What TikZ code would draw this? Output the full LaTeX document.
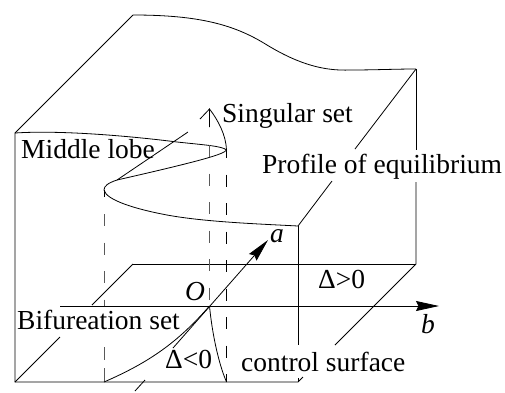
\documentclass[tikz,border=0pt]{standalone}
\usepackage{fontspec}
\setmainfont{Liberation Serif}
\usetikzlibrary{arrows.meta}
\begin{document}
\begin{tikzpicture}[
   x=1pt,y=-1pt,
   edge/.style={line width=0.8pt},
   guide/.style={line width=0.9pt,black!65,dash pattern=on 12pt off 16.5pt},
   guidek/.style={line width=0.8pt,black,dash pattern=on 12pt off 16.5pt,dash phase=4pt},
   axis/.style={line width=0.8pt,black,-{Stealth[length=23pt,width=10pt,inset=2.5pt]}},
   lbl/.style={anchor=base west,inner sep=0pt,font=\fontsize{27.5}{30}\selectfont}]
  \useasboundingbox (0,0) rectangle (505,392);
  % corners of the block
  \coordinate (TB) at (133,15);
  \coordinate (TR) at (416,69);
  \coordinate (TL) at (15,133);
  \coordinate (TF) at (298,226);
  \coordinate (BL) at (15,382);
  \coordinate (BF) at (298,382);
  \coordinate (BR) at (416,264);
  \coordinate (BB) at (133,264);
  \coordinate (FA) at (298,345);
  \coordinate (FB) at (298,378);
  \coordinate (RA) at (335,345);
  \coordinate (RB) at (355,149);
  \coordinate (RC) at (332,181);
  \coordinate (VA) at (416,150);
  \coordinate (VB) at (416,182);
  \coordinate (TK) at (303,377);
  \coordinate (LA) at (92,305);
  \coordinate (LB) at (60,337);
  % points on the profile
  \coordinate (N) at (104,190);
  \coordinate (NA) at (104,197);
  \coordinate (NB) at (104,214);
  \coordinate (NC) at (104,306);
  \coordinate (ND) at (104,347);
  \coordinate (F) at (226.5,150);
  \coordinate (Y) at (209.5,109);
  \coordinate (YL) at (200,119);
  \coordinate (YB) at (209.5,127);
  \coordinate (YC) at (209.5,145);
  \coordinate (M) at (188,132);
  \coordinate (MB) at (117,180);
  \coordinate (O) at (209.5,306);
  \coordinate (AS) at (135,391);
  \coordinate (AG) at (145,380);
  \coordinate (AH) at (173,348);
  \coordinate (AT) at (268,240);
  \coordinate (BS) at (60,306);
  \coordinate (BT) at (439,306);
  \coordinate (C1) at (104,382);
  \coordinate (C2) at (226.5,382);
  % block
  \draw[edge] (TL)--(TB);
  \draw[edge] (TB) .. controls (200,15) and (235,25) .. (267,45)
     .. controls (300,65) and (325,71) .. (350,70)
     .. controls (375,70) and (395,69) .. (TR);
  \draw[edge] (TR)--(RB);
  \draw[edge] (RC)--(TF);
  \draw[edge] (TR)--(VA);
  \draw[edge] (VB)--(BR)--(RA);
  \draw[edge] (TL)--(BL)--(BF)--(TK);
  \draw[edge] (TF)--(FA);
  \draw[edge] (FB)--(BF);
  \draw[edge] (BB)--(BR);
  \draw[edge] (BB)--(LA);
  \draw[edge] (LB)--(BL);
  % profile of equilibrium
  \draw[edge] (TL) .. controls (60,130) and (130,136) .. (177,142)
     .. controls (205,145) and (222,146) .. (F)
     .. controls (224,154) and (205,160) .. (117,180)
     .. controls (108,183) and (104,186) .. (N)
     .. controls (106,200) and (135,209) .. (167,215)
     .. controls (205,222) and (260,224) .. (TF);
  \draw[edge] (MB)--(M);
  \draw[edge] (YL)--(Y)--(YB);
  \draw[edge] (Y) .. controls (218,120) and (226,135) .. (F);
  % projection lines
  \draw[edge] (N)--(NA);
  \draw[guide] (NB)--(NC);
  \draw[guide,dash pattern=on 13pt off 8pt] (ND)--(C1);
  \draw[guide] (YC)--(O);
  \draw[guidek] (F)--(C2);
  % bifurcation set
  \draw[edge] (O) .. controls (178,342) and (150,362) .. (C1);
  \draw[edge] (O) .. controls (212,332) and (218,362) .. (C2);
  % axes
  \draw[axis] (BS)--(BT);
  \draw[edge] (AS)--(AG);
  \draw[axis] (AH)--(AT);
  % labels
  \node[lbl] (lobe) at (21,158) {Middle lobe};
  \node[lbl] (sing) at (222,122) {Singular set};
  \node[lbl] (prof) at (262,173) {Profile of equilibrium};
  \node[lbl] (bif) at (17,329) {Bifureation set};
  \node[lbl] (ctrl) at (241,371) {control surface};
  \node[lbl] (pos) at (318,288) {Δ>0};
  \node[lbl] (neg) at (165,368) {Δ<0};
  \node[lbl] (la) at (270,242) {\textit{a}};
  \node[lbl] (lb) at (421,333) {\textit{b}};
  \node[lbl] (lo) at (185,300) {\textit{O}};
\end{tikzpicture}
\end{document}
